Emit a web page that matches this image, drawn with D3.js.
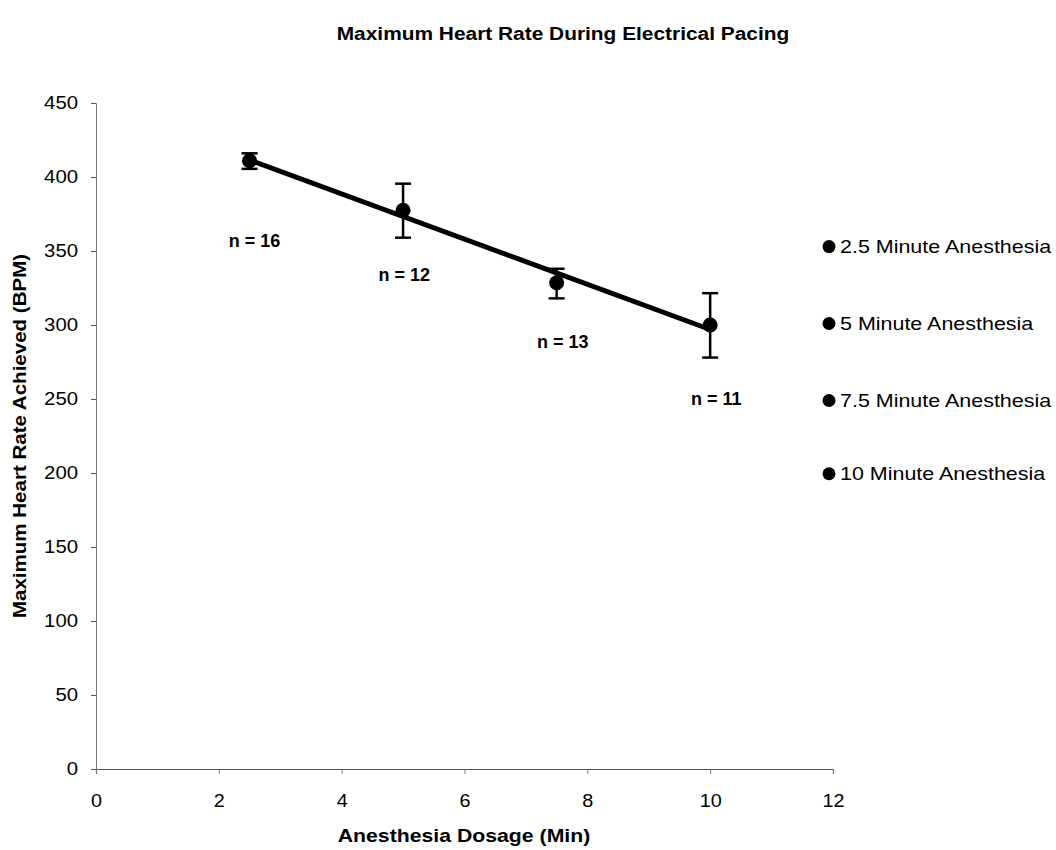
<!DOCTYPE html>
<html>
<head>
<meta charset="utf-8">
<script src="https://cdn.jsdelivr.net/npm/d3@7"></script>
<style>
  body { margin: 0; background: #fff; }
  text { font-family: "Liberation Sans", Arial, sans-serif; fill: #000; }
</style>
</head>
<body>
<svg id="contenedor"></svg>
<script>
// datos del gráfico
let dosis = [2.5, 5, 7.5, 10];                 // minutos de anestesia
let frecuencia = [411, 377.5, 328.5, 300];     // frecuencia cardiaca máxima (BPM)
let errorArriba = [416, 395.5, 338, 321.5];
let errorAbajo = [405.5, 359, 318, 278];
let etiquetasN = ["n = 16", "n = 12", "n = 13", "n = 11"];
let etiquetaX = [2.58, 5.02, 7.6, 10.1];       // posición de las etiquetas n (en unidades de datos)
let etiquetaY = [357, 334, 288.5, 250.5];
let leyenda = ["2.5 Minute Anesthesia", "5 Minute Anesthesia", "7.5 Minute Anesthesia", "10 Minute Anesthesia"];
let leyendaY = [353, 301, 249, 199.5];         // altura de cada fila de leyenda (en BPM)
let ticksX = [0, 2, 4, 6, 8, 10, 12];
let ticksY = [0, 50, 100, 150, 200, 250, 300, 350, 400, 450];

// configuracion del area
let width = 1056;
let height = 850;
let margin = { top: 103, bottom: 81, left: 96, right: 223 };
let bodyWidth = width - margin.left - margin.right;
let bodyHeight = height - margin.top - margin.bottom;

let svg = d3.select("#contenedor").attr("width", width).attr("height", height);

// el texto del original se ve un poco ensanchado
function estirar(sel, factor) {
  sel.each(function () {
    let largo = this.getComputedTextLength();
    d3.select(this).attr("textLength", largo * factor).attr("lengthAdjust", "spacingAndGlyphs");
  });
}

let xScale = d3.scaleLinear().domain([0, 12]).range([0, bodyWidth]);
let yScale = d3.scaleLinear().domain([0, 450]).range([bodyHeight, 0]);

let body = svg.append("g").attr("transform", `translate(${margin.left},${margin.top})`);

// ejes
let axisY = d3.axisLeft(yScale).tickValues(ticksY).tickSize(5).tickPadding(13);
let gy = body.append("g").call(axisY);
gy.select(".domain").attr("stroke", "#777").attr("stroke-width", 1);
gy.selectAll(".tick line").attr("stroke", "#555");
gy.selectAll("text").style("font-size", "18px").attr("font-family", null).call(estirar, 1.13);

let axisX = d3.axisBottom(xScale).tickValues(ticksX).tickSize(5).tickPadding(20);
let gx = body.append("g").attr("transform", `translate(0,${bodyHeight})`).call(axisX);
gx.select(".domain").attr("stroke", "#555").attr("stroke-width", 1.2);
gx.selectAll(".tick line").attr("stroke", "#777");
gx.selectAll("text").style("font-size", "18px").attr("font-family", null).call(estirar, 1.1);

// linea de tendencia (minimos cuadrados)
let mx = d3.mean(dosis);
let my = d3.mean(frecuencia);
let pend = d3.sum(dosis, (d, i) => (d - mx) * (frecuencia[i] - my)) / d3.sum(dosis, (d) => (d - mx) * (d - mx));
let ordenada = my - pend * mx;
let extremos = [d3.min(dosis), d3.max(dosis)];
body.append("line")
  .attr("x1", xScale(extremos[0])).attr("y1", yScale(ordenada + pend * extremos[0]))
  .attr("x2", xScale(extremos[1])).attr("y2", yScale(ordenada + pend * extremos[1]))
  .attr("stroke", "#000").attr("stroke-width", 5);

// barras de error
let errores = body.selectAll(".error").data(dosis).enter().append("g").attr("class", "error");
errores.append("line")
  .attr("x1", (d) => xScale(d)).attr("x2", (d) => xScale(d))
  .attr("y1", (d, i) => yScale(errorArriba[i])).attr("y2", (d, i) => yScale(errorAbajo[i]))
  .attr("stroke", "#000").attr("stroke-width", 2.5);
[errorArriba, errorAbajo].forEach((serie) => {
  errores.append("line")
    .attr("x1", (d) => xScale(d) - 8).attr("x2", (d) => xScale(d) + 8)
    .attr("y1", (d, i) => yScale(serie[i])).attr("y2", (d, i) => yScale(serie[i]))
    .attr("stroke", "#000").attr("stroke-width", 2.5);
});

// puntos
body.selectAll(".punto").data(dosis).enter().append("circle")
  .attr("cx", (d) => xScale(d))
  .attr("cy", (d, i) => yScale(frecuencia[i]))
  .attr("r", 7.5)
  .attr("fill", "#000");

// etiquetas n
body.selectAll(".etiqueta").data(etiquetasN).enter().append("text")
  .attr("x", (d, i) => xScale(etiquetaX[i]))
  .attr("y", (d, i) => yScale(etiquetaY[i]))
  .attr("text-anchor", "middle")
  .attr("dy", "0.35em")
  .style("font-size", "18px").style("font-weight", "bold")
  .text((d) => d);

// leyenda
let filas = svg.selectAll(".leyenda").data(leyenda).enter().append("g")
  .attr("transform", (d, i) => `translate(${margin.left + bodyWidth - 4},${margin.top + yScale(leyendaY[i])})`);
filas.append("circle").attr("cx", 0).attr("cy", 0).attr("r", 6.5).attr("fill", "#000");
filas.append("text").attr("x", 11).attr("dy", "0.35em").style("font-size", "18.5px").text((d) => d)
  .call(estirar, 1.16);

// titulos
svg.append("text").attr("x", 563).attr("y", 40).attr("text-anchor", "middle")
  .style("font-size", "18px").style("font-weight", "bold")
  .text("Maximum Heart Rate During Electrical Pacing")
  .call(estirar, 1.16);
svg.append("text").attr("x", 464).attr("y", 842).attr("text-anchor", "middle")
  .style("font-size", "18px").style("font-weight", "bold")
  .text("Anesthesia Dosage (Min)")
  .call(estirar, 1.18);
svg.append("text").attr("transform", `translate(26,${margin.top + 333}) rotate(-90)`)
  .attr("text-anchor", "middle")
  .style("font-size", "18px").style("font-weight", "bold")
  .text("Maximum Heart Rate Achieved (BPM)")
  .call(estirar, 1.14);
</script>
</body>
</html>
